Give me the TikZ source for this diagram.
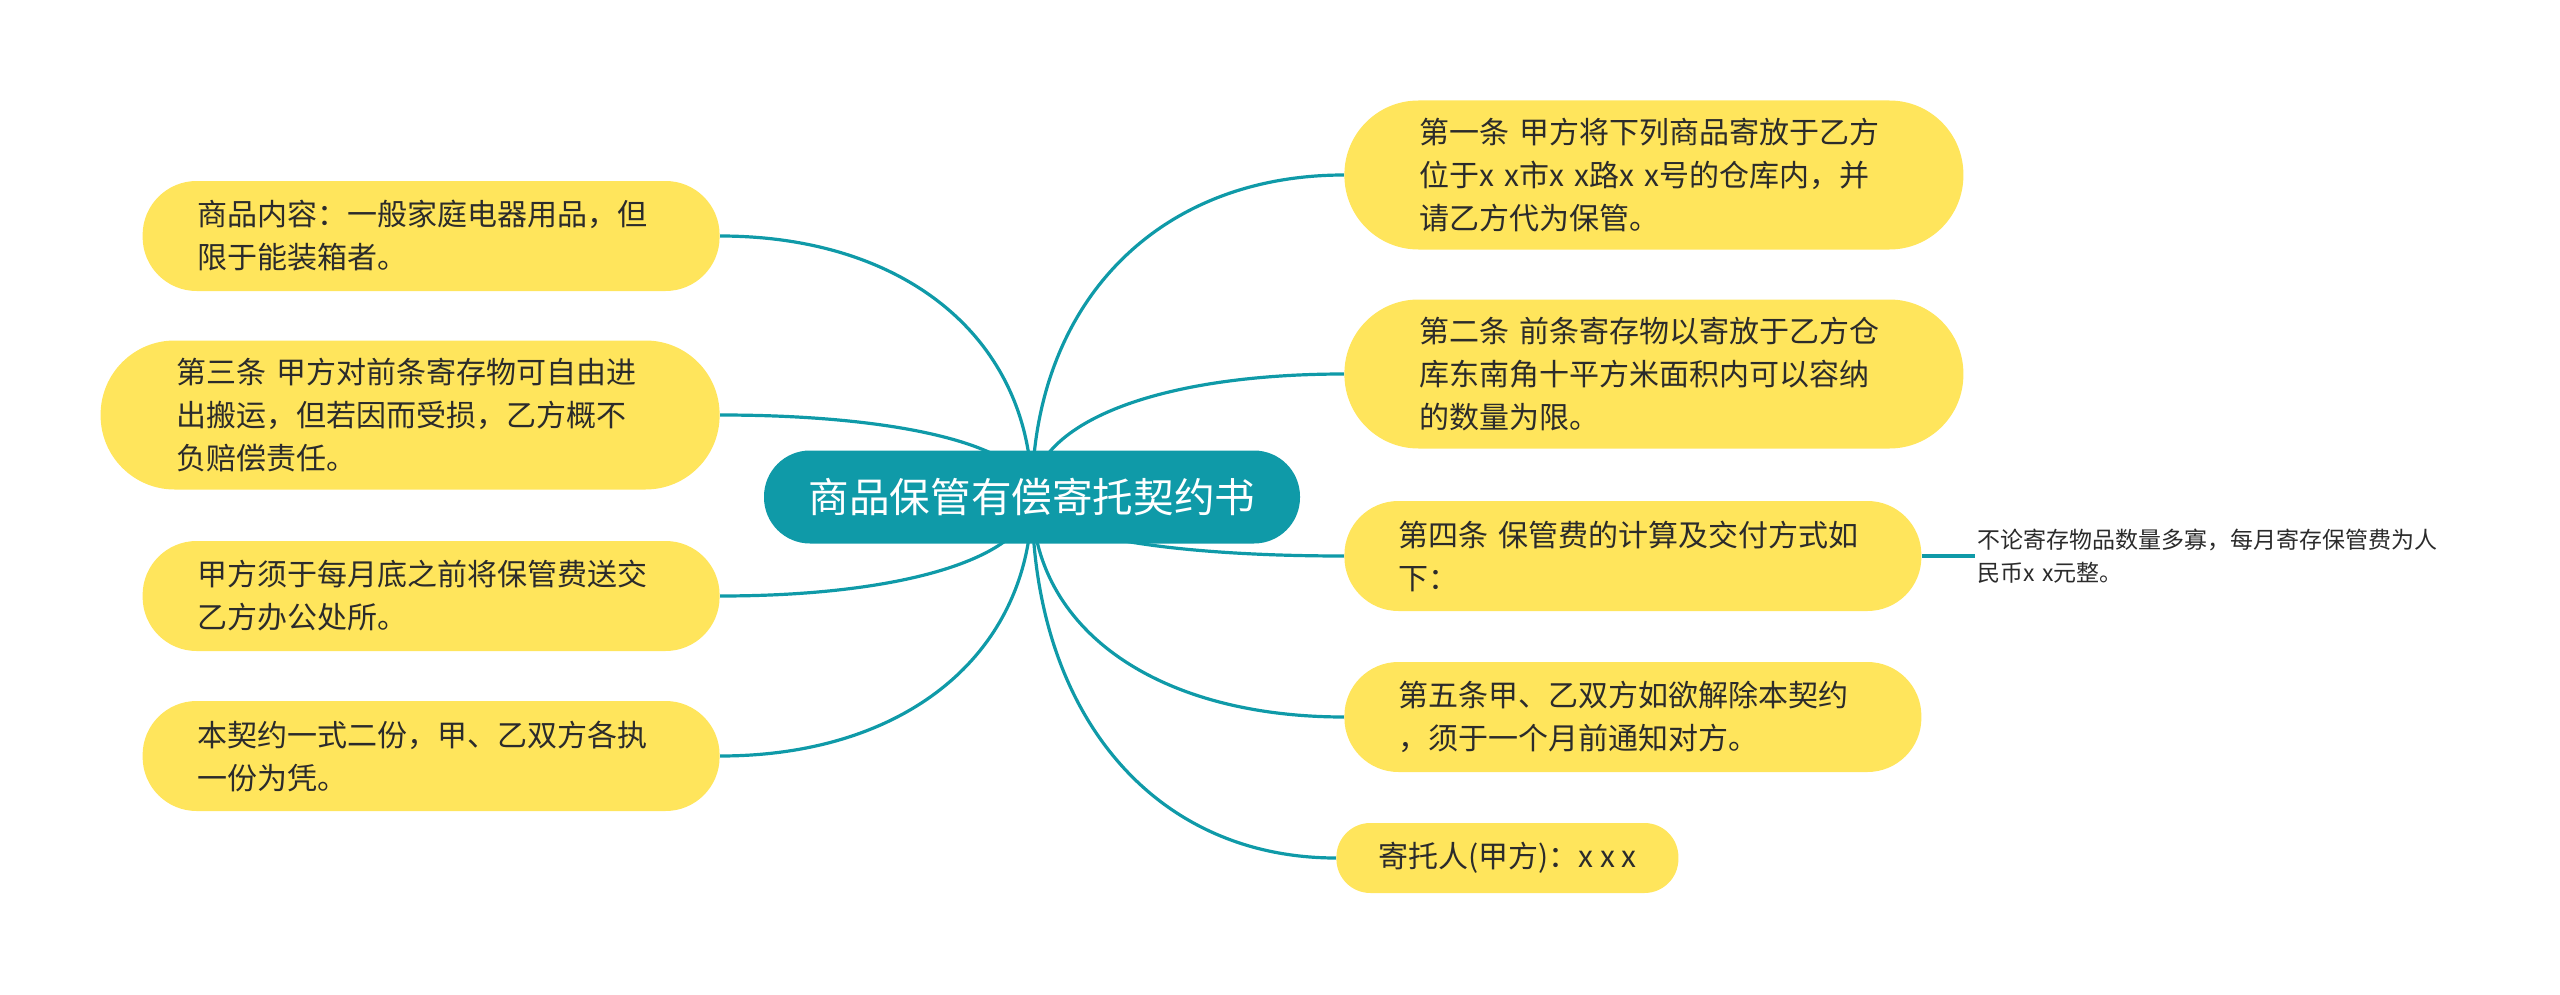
\documentclass[tikz,border=0pt]{standalone}
\usepackage{fontspec}
\newfontfamily\cjk{Noto Sans CJK SC}
\usetikzlibrary{backgrounds,calc}
\definecolor{mmteal}{HTML}{0F9AA8}
\definecolor{mmyellow}{HTML}{FFE55C}
\definecolor{mmtext}{HTML}{2B2B2B}

\begin{document}
\begin{tikzpicture}[
  x=0.5pt,y=-0.5pt,
  root/.style={rectangle,rounded corners=23pt,fill=mmteal,text=white,
               minimum height=46.5pt,minimum width=268pt,inner sep=0pt,
               font=\cjk\fontsize{20.3}{24}\selectfont},
  pill/.style={rectangle,fill=mmyellow,text=mmtext,inner sep=0pt,
               font=\cjk\fontsize{15}{21.5}\selectfont},
  topic/.style={pill,rounded corners=27pt,minimum height=55pt,minimum width=288.5pt,
                text width=234pt,align=left},
  tall/.style={rounded corners=37pt,minimum height=74.5pt,minimum width=309.5pt},
  leaf/.style={inner sep=1pt,text width=240pt,align=left,text=mmtext,
               font=\cjk\fontsize{11.5}{16.5}\selectfont},
  link/.style={draw=mmteal,line width=1.6pt},
  branch/.style={to path={.. controls ($(\tikztostart)!0.6!(\tikztostart |- \tikztotarget)$)
                 and ($(\tikztotarget)!0.6!(\tikztostart |- \tikztotarget)$) .. (\tikztotarget)}}
]
\useasboundingbox (0,0) rectangle (2560,995);

\node[root] (root) at (1032,497) {商品保管有偿寄托契约书};

% left side
\node[topic,anchor=east] (l1) at (720,236) {商品内容：一般家庭电器用品，但\\限于能装箱者。};
\node[topic,tall,anchor=east] (l2) at (720,415) {第三条 甲方对前条寄存物可自由进\\出搬运，但若因而受损，乙方概不\\负赔偿责任。};
\node[topic,anchor=east] (l3) at (720,596) {甲方须于每月底之前将保管费送交\\乙方办公处所。};
\node[topic,anchor=east] (l4) at (720,756) {本契约一式二份，甲、乙双方各执\\一份为凭。};

% right side
\node[topic,tall,anchor=west] (r1) at (1344,175) {第一条 甲方将下列商品寄放于乙方\\位于x x市x x路x x号的仓库内，并\\请乙方代为保管。};
\node[topic,tall,anchor=west] (r2) at (1344,374) {第二条 前条寄存物以寄放于乙方仓\\库东南角十平方米面积内可以容纳\\的数量为限。};
\node[topic,anchor=west] (r3) at (1344,556) {第四条 保管费的计算及交付方式如\\下：};
\node[topic,anchor=west] (r4) at (1344,717) {第五条甲、乙双方如欲解除本契约\\，须于一个月前通知对方。};
\node[pill,rounded corners=17pt,minimum height=35pt,minimum width=171pt,anchor=west] (r5) at (1336,858) {寄托人(甲方)：x x x};

\node[leaf,anchor=west] (leaf) at (1975,556) {不论寄存物品数量多寡，每月寄存保管费为人\\民币x x元整。};

\begin{scope}[on background layer]
  \draw[link] (root.center) to[branch] (l1.east);
  \draw[link] (root.center) to[branch] (l2.east);
  \draw[link] (root.center) to[branch] (l3.east);
  \draw[link] (root.center) to[branch] (l4.east);
  \draw[link] (root.center) to[branch] (r1.west);
  \draw[link] (root.center) to[branch] (r2.west);
  \draw[link] (root.center) to[branch] (r3.west);
  \draw[link] (root.center) to[branch] (r4.west);
  \draw[link] (root.center) to[branch] (r5.west);
  \draw[link] (r3.east) -- (leaf.west);
\end{scope}
\end{tikzpicture}
\end{document}
